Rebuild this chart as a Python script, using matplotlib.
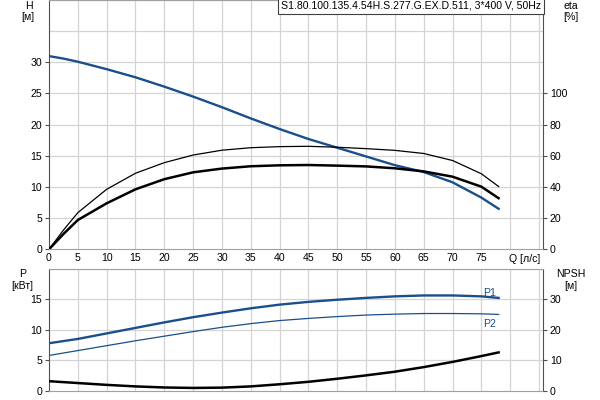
import matplotlib
matplotlib.use("Agg")
import matplotlib.pyplot as plt

plt.rcParams['font.family'] = ['Liberation Sans', 'DejaVu Sans']

# ---- data ----
q = [0, 2.5, 5, 10, 15, 20, 25, 30, 35, 40, 45, 50, 55, 60, 65, 70, 75, 78]
head = [31.0, 30.6, 30.1, 28.9, 27.6, 26.1, 24.5, 22.8, 21.0, 19.3, 17.7, 16.3, 14.9, 13.5, 12.4, 10.75, 8.3, 6.5]
eta_pump = [0, 12.3, 23.5, 38.5, 48.8, 55.6, 60.5, 63.6, 65.2, 65.9, 66.1, 65.5, 64.6, 63.5, 61.5, 57.0, 48.5, 40.3]
eta_total = [0, 9.8, 18.8, 29.5, 38.5, 45.0, 49.4, 51.8, 53.3, 53.9, 54.1, 53.7, 53.2, 52.0, 50.0, 46.6, 40.2, 32.8]
p1 = [7.8, 8.15, 8.5, 9.4, 10.3, 11.2, 12.05, 12.8, 13.5, 14.1, 14.55, 14.9, 15.2, 15.45, 15.6, 15.6, 15.45, 15.2]
p2 = [5.8, 6.2, 6.6, 7.4, 8.2, 8.95, 9.7, 10.4, 11.0, 11.5, 11.85, 12.15, 12.4, 12.55, 12.65, 12.65, 12.6, 12.5]
npsh = [3.2, 2.9, 2.6, 2.0, 1.5, 1.15, 1.0, 1.1, 1.5, 2.2, 3.0, 4.0, 5.1, 6.3, 7.8, 9.5, 11.4, 12.6]

x_ticks = [0, 5, 10, 15, 20, 25, 30, 35, 40, 45, 50, 55, 60, 65, 70, 75]
h_ticks = [0, 5, 10, 15, 20, 25, 30]
eta_ticks = [0, 20, 40, 60, 80, 100]
p_ticks = [0, 5, 10, 15]
npsh_ticks = [0, 10, 20, 30]
title = "S1.80.100.135.4.54H.S.277.G.EX.D.511, 3*400 V, 50Hz"

BLUE = '#1a4f8b'
GRID = '#d4d4d4'
FS = 7.6
W, H = 600, 400

fig = plt.figure(figsize=(6, 4), dpi=100)
L, R = 49 / W, 543 / W

def setup(ax, ylim, grid_y):
    ax.set_xlim(0, 85.7)
    ax.set_ylim(*ylim)
    for gx in range(5, 86, 5):
        ax.axvline(gx, color=GRID, lw=0.9, zorder=0)
    for gy in grid_y:
        ax.axhline(gy, color=GRID, lw=0.9, zorder=0)
    for s in ['left', 'right']:
        ax.spines[s].set_color('#505050')
    for s in ['top', 'bottom']:
        ax.spines[s].set_color('#a0a0a0')
    ax.tick_params(labelsize=FS, length=3, width=0.8, color='#505050', pad=2)

# ---- top chart ----
ax = fig.add_axes([L, 1 - 249.3 / H, R - L, 249.3 / H])
setup(ax, (0, 40), range(5, 41, 5))
ax.set_xticks(x_ticks)
ax.tick_params(axis='x', length=0, pad=3)
ax.set_yticks(h_ticks)
ax.plot(q, head, color=BLUE, lw=1.7, zorder=4)
ax2 = ax.twinx()
ax2.set_ylim(0, 160)
ax2.set_yticks(eta_ticks)
ax2.tick_params(labelsize=FS, length=3, width=0.8, color='#505050', pad=2)
for s in ax2.spines.values():
    s.set_visible(False)
ax2.plot(q, eta_pump, color='black', lw=0.9)
ax2.plot(q, eta_total, color='black', lw=1.8)
ax.text(79.8, -1.6, "Q [л/с]", fontsize=FS, ha='left', va='center')
ax.text(-3.4, 39.1, "H", fontsize=FS, ha='center', va='center')
ax.text(-3.6, 37.2, "[м]", fontsize=FS, ha='center', va='center')
ax.text(90.5, 39.1, "eta", fontsize=FS, ha='center', va='center', clip_on=False)
ax.text(90.5, 37.2, "[%]", fontsize=FS, ha='center', va='center', clip_on=False)
ax.text(85.4, 39.9, title, fontsize=FS, ha='right', va='top', zorder=6,
        bbox=dict(boxstyle='square,pad=0.3', fc='white', ec='#404040', lw=0.8))

# ---- bottom chart ----
bx = fig.add_axes([L, 1 - 391 / H, R - L, (391 - 268.5) / H])
setup(bx, (0, 20), range(5, 21, 5))
bx.set_xticks([])
bx.set_yticks(p_ticks)
bx.plot(q, p1, color=BLUE, lw=1.7)
bx.plot(q, p2, color=BLUE, lw=0.9)
bx2 = bx.twinx()
bx2.set_ylim(0, 40)
bx2.set_yticks(npsh_ticks)
bx2.tick_params(labelsize=FS, length=3, width=0.8, color='#505050', pad=2)
for s in bx2.spines.values():
    s.set_visible(False)
bx2.plot(q, npsh, color='black', lw=1.8)
bx.text(76.5, 16.0, "P1", fontsize=FS, color=BLUE, ha='center', va='center')
bx.text(76.5, 11.0, "P2", fontsize=FS, color=BLUE, ha='center', va='center')
bx.text(-4.6, 19.1, "P", fontsize=FS, ha='center', va='center')
bx.text(-4.6, 17.1, "[кВт]", fontsize=FS, ha='center', va='center')
bx.text(90.5, 19.1, "NPSH", fontsize=FS, ha='center', va='center', clip_on=False)
bx.text(90.5, 17.1, "[м]", fontsize=FS, ha='center', va='center', clip_on=False)

fig.savefig("out.png", dpi=100)
